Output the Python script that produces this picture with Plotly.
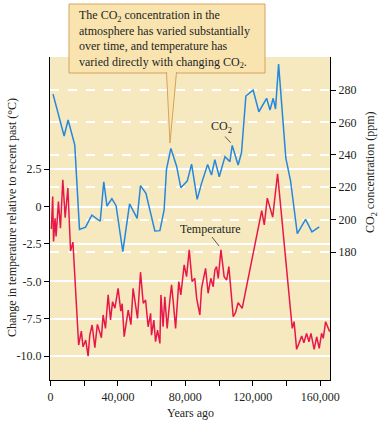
import plotly.graph_objects as go

# ---------------- data ----------------
co2_years = [1500, 8070, 10450, 14400, 17200, 20800, 24500, 29500, 31600, 33500,
             36400, 38900, 42900, 46900, 51400, 53400, 56600, 61900, 64900, 67400,
             68800, 71400, 74800, 77300, 81100, 83700, 87000, 89600, 93200, 95500,
             97500, 100100, 103500, 106400, 107800, 111300, 113300, 115900, 120200, 123600,
             128200, 130200, 132100, 133500, 135300, 139600, 142400, 146400, 151300, 155100,
             159400]
co2_ppm = [277.5, 251.6, 261.5, 246, 194, 195.4, 202.8, 199, 223.4, 208.4,
           213, 208.6, 180.2, 209.7, 200.8, 221, 216.2, 193, 193.2, 206,
           231, 244, 233, 219.7, 223.8, 234.3, 212.5, 222.4, 234, 227.5,
           237, 226.5, 238.9, 235.8, 245.8, 233.7, 241.3, 276.3, 280, 266.6,
           274.9, 267.7, 274.9, 268.3, 296, 238, 224, 191.3, 200.2, 192.5,
           195.6]

temp_years = [500, 1300, 1800, 2700, 3300, 4700, 5900, 7300, 8700, 10300,
              11900, 13300, 16700, 18300, 19300, 20900, 22300, 23300, 24700, 26300,
              27800, 30200, 31200, 32600, 34200, 35600, 36800, 38200, 40100, 41700,
              42500, 43700, 46100, 47700, 49000, 51600, 53400, 55000, 56400, 57900,
              59400, 59900, 61300, 62300, 63500, 64900, 65500, 66800, 67800, 69200,
              70800, 71800, 72800, 74200, 76100, 77300, 79300, 80700, 82300, 84000,
              85600, 86700, 88600, 89600, 91000, 92000, 93500, 95100, 96500, 97500,
              98500, 99500, 101100, 103000, 104500, 105800, 108400, 109800, 111300, 113700,
              125300, 126800, 128600, 131800, 134700, 143400, 144500, 146000, 147400, 149000,
              150300, 151900, 153300, 154500, 156400, 157900, 159400, 160800, 161800, 163200,
              165600]
temp_c = [-1.5, 0.67, -2.34, -0.78, -2.0, 0.33, -1.45, 1.79, -0.74, 1.23,
          -2.97, -2.38, -9.26, -8.33, -9.38, -8.93, -10.0, -8.6, -7.92, -9.44,
          -7.88, -8.77, -7.25, -8.15, -5.91, -7.59, -6.36, -6.8, -5.47, -7.0,
          -6.5, -8.7, -6.92, -7.9, -5.47, -7.48, -4.39, -6.47, -6.25, -8.04,
          -7.14, -8.6, -7.59, -9.04, -8.26, -9.15, -5.91, -8.04, -6.03, -8.15,
          -6.25, -5.24, -6.36, -8.15, -5.02, -5.91, -3.9, -4.69, -2.9, -5.02,
          -4.8, -6.14, -7.25, -5.47, -4.69, -4.13, -5.8, -4.8, -5.36, -4.24,
          -4.02, -4.8, -2.9, -4.69, -4.91, -4.02, -7.37, -7.08, -6.43, -6.81,
          -0.27, -1.23, 0.56, -0.71, 2.19, -8.15, -7.7, -9.55, -9.15, -8.66,
          -9.11, -8.48, -9.04, -8.48, -9.55, -8.71, -9.49, -8.48, -8.81, -7.7,
          -8.37]

t_tickvals = [-10, -7.5, -5, -2.5, 0, 2.5]
t_ticktext = ["-10.0", "-7.5", "-5.0", "-2.5", "0", "2.5"]
c_tickvals = [180, 200, 220, 240, 260, 280]

callout_lines = ["The CO<sub>2</sub> concentration in the",
                 "atmosphere has varied substantially",
                 "over time, and temperature has",
                 "varied directly with changing CO<sub>2</sub>."]

# ---------------- layout helpers ----------------
W, H = 382, 423
L, R, T, B = 50, 330, 57, 380


def px(x):
    return (x - L) / (R - L)


def py(y):
    return (B - y) / (B - T)


FONT = "Liberation Serif, Times New Roman, serif"
TXT = "#231f20"
BG = "#f7e9bf"
BOXFILL = "#f9e4b0"
BOXLINE = "#d6a25a"
BLUE = "#2388de"
RED = "#e8174b"

fig = go.Figure()
fig.add_trace(go.Scatter(x=temp_years, y=temp_c, mode="lines",
                         line=dict(color=RED, width=1.5), yaxis="y",
                         showlegend=False, hoverinfo="skip"))
fig.add_trace(go.Scatter(x=co2_years, y=co2_ppm, mode="lines",
                         line=dict(color=BLUE, width=1.5), yaxis="y2",
                         showlegend=False, hoverinfo="skip"))

fig.update_layout(
    width=W, height=H, autosize=False,
    margin=dict(l=L, r=W - R, t=T, b=H - B, pad=0),
    paper_bgcolor="white", plot_bgcolor=BG,
    font=dict(family=FONT, size=12, color=TXT),
    showlegend=False,
    xaxis=dict(range=[-300, 165800], tick0=0, dtick=40000, tickformat=",d",
               showgrid=False, zeroline=False, showline=True, linecolor="black",
               linewidth=1.2, ticks="outside", ticklen=5, tickcolor="black",
               minor=dict(tick0=0, dtick=20000, ticks="outside", ticklen=5,
                          tickcolor="black", showgrid=False),
               tickfont=dict(family=FONT, size=12, color=TXT)),
    yaxis=dict(range=[-11.6, 10.0], tickvals=t_tickvals, ticktext=t_ticktext,
               showgrid=True, gridcolor="white", gridwidth=1.5, zeroline=False,
               showline=True, linecolor="black", linewidth=1.2, ticks="outside",
               ticklen=5, tickcolor="black",
               tickfont=dict(family=FONT, size=12, color=TXT)),
    yaxis2=dict(range=[101, 300.4], tickvals=c_tickvals, overlaying="y", side="right",
                anchor="x", showgrid=True, gridcolor="white", gridwidth=1.5,
                griddash="dash", zeroline=False, showline=True, linecolor="black",
                linewidth=1.2, ticks="outside", ticklen=5, tickcolor="black",
                tickfont=dict(family=FONT, size=12, color=TXT)),
)

shapes = [
    dict(type="rect", xref="paper", yref="paper", x0=px(69), x1=px(265),
         y0=py(73), y1=py(4), fillcolor=BOXFILL, line=dict(color=BOXLINE, width=1),
         layer="above"),
    dict(type="path", xref="paper", yref="paper",
         path=f"M {px(166.5)},{py(72)} L {px(170)},{py(143)} L {px(176.5)},{py(72)}",
         fillcolor=BOXFILL, line=dict(color=BOXLINE, width=1), layer="above"),
    dict(type="line", xref="paper", yref="paper", x0=px(225), y0=py(136.5),
         x1=px(230.7), y1=py(142.7), line=dict(color="#333", width=0.8)),
    dict(type="line", xref="paper", yref="paper", x0=px(212), y0=py(237),
         x1=px(219), y1=py(246), line=dict(color="#333", width=0.8)),
]
fig.update_layout(shapes=shapes)

annotations = [
    dict(text="<br>".join(callout_lines), xref="paper", yref="paper",
         x=px(77), y=py(6), xanchor="left", yanchor="top", align="left",
         showarrow=False, font=dict(family=FONT, size=12, color=TXT)),
    dict(text="CO<sub>2</sub>", xref="paper", yref="paper", x=px(221.7), y=py(127),
         xanchor="center", yanchor="middle", showarrow=False,
         font=dict(family=FONT, size=12, color=TXT)),
    dict(text="Temperature", xref="paper", yref="paper", x=px(210), y=py(229),
         xanchor="center", yanchor="middle", showarrow=False,
         font=dict(family=FONT, size=12, color=TXT)),
    dict(text="Change in temperature relative to recent past (°C)", xref="paper",
         yref="paper", x=px(12), y=py(218), xanchor="center", yanchor="middle",
         textangle=-90, showarrow=False, font=dict(family=FONT, size=12, color=TXT)),
    dict(text="CO<sub>2</sub> concentration (ppm)", xref="paper", yref="paper",
         x=px(371), y=py(172), xanchor="center", yanchor="middle", textangle=-90,
         showarrow=False, font=dict(family=FONT, size=12, color=TXT)),
    dict(text="Years ago", xref="paper", yref="paper", x=px(190), y=py(413),
         xanchor="center", yanchor="middle", showarrow=False,
         font=dict(family=FONT, size=12, color=TXT)),
]
fig.update_layout(annotations=annotations)

fig.write_html("out.html", config={"displayModeBar": False},
               post_script="document.body.style.margin='0px';")
